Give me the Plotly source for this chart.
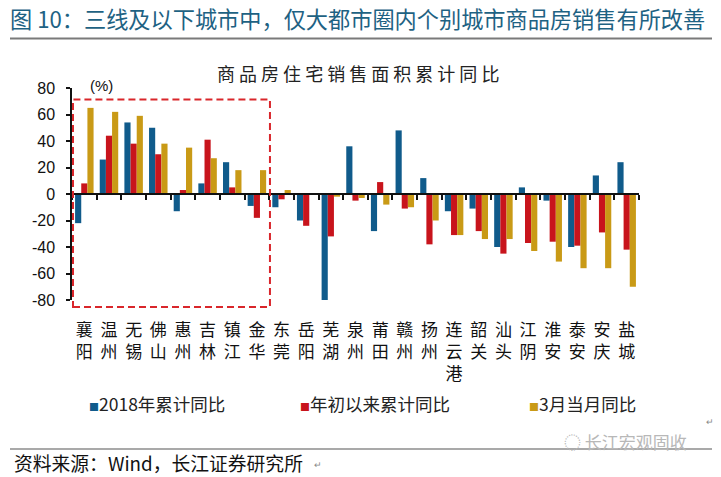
import plotly.graph_objects as go

# ---------------- data ----------------
cities = ["襄阳", "温州", "无锡", "佛山", "惠州", "吉林", "镇江", "金华", "东莞", "岳阳",
          "芜湖", "泉州", "莆田", "赣州", "扬州", "连云港", "韶关", "汕头", "江阴", "淮安",
          "泰安", "安庆", "盐城"]
yoy_2018 = [-22, 26, 54, 50, -13, 8, 24, -9, -10, -20, -80, 36, -28, 48, 12, -13, -11, -40, 5, -5, -40, 14, 24]
ytd_yoy = [8, 44, 38, 30, 3, 41, 5, -18, -4, -24, -32, -5, 9, -11, -38, -31, -28, -45, -37, -36, -39, -29, -42]
mar_yoy = [65, 62, 59, 38, 35, 27, 18, 18, 3, 0, -2, -3, -8, -10, -20, -31, -34, -34, -43, -51, -56, -56, -70]
series_names = ["2018年累计同比", "年初以来累计同比", "3月当月同比"]
y_ticks = [-80, -60, -40, -20, 0, 20, 40, 60, 80]
highlight_count = 8  # cities inside the dashed box (大都市圈)

# ---------------- layout constants ----------------
W, H = 721, 477
L, R, T, B = 72, 82, 88, 177
PW, PH = W - L - R, H - T - B
CJK = "Noto Sans CJK SC"
NUM = "Arial, Liberation Sans, Noto Sans CJK SC"
colors = ["#105b8b", "#c8141c", "#c99a16"]


def px(x):
    return (x - L) / PW


def py(y):
    return (H - B - y) / PH


labels = ["<br>".join(list(c)) for c in cities]

fig = go.Figure()
for i, (name, vals) in enumerate(zip(series_names, [yoy_2018, ytd_yoy, mar_yoy])):
    fig.add_trace(go.Bar(
        x=labels, y=vals, name=name, marker=dict(color=colors[i], line=dict(width=0)),
        showlegend=False,
    ))

# invisible trace to carry categories on the zero-line axis
fig.add_trace(go.Scatter(x=labels, y=[0] * len(labels), xaxis="x2", yaxis="y",
                         mode="markers", marker=dict(opacity=0), showlegend=False,
                         hoverinfo="skip"))

fig.update_layout(
    width=W, height=H,
    margin=dict(l=L, r=R, t=T, b=B, autoexpand=False),
    paper_bgcolor="white", plot_bgcolor="white",
    barmode="group", bargap=0.25, bargroupgap=0,
    showlegend=False,
    xaxis=dict(type="category", range=[-0.5, len(cities) - 0.5], showline=False,
               ticks="", showgrid=False, zeroline=False,
               tickfont=dict(family=CJK, size=17, color="#111"),
               ticklabelstandoff=18),
    xaxis2=dict(type="category", overlaying="x", anchor="free", position=0.5,
                range=[-0.5, len(cities) - 0.5], showline=True, linecolor="#111",
                linewidth=2, ticks="outside", ticklen=5, tickwidth=2, tickcolor="#111",
                tickson="boundaries", showticklabels=False, showgrid=False,
                zeroline=False, side="bottom"),
    yaxis=dict(range=[-80, 80], tickvals=y_ticks, ticktext=[str(v) for v in y_ticks],
               showline=True, linecolor="#111", linewidth=1.5, ticks="outside",
               ticklen=4, tickwidth=1.5, tickcolor="#111", showgrid=False,
               zeroline=False, tickfont=dict(family=NUM, size=16, color="#111"),
               ticklabelstandoff=8),
    font=dict(family=CJK),
)

# dashed highlight box around metropolitan-area cities
fig.add_shape(type="rect", xref="x", yref="paper",
              x0=-0.46, x1=highlight_count - 0.47, y0=py(307), y1=py(99.5),
              line=dict(color="#d9262b", width=2, dash="7px,4px"), fillcolor="rgba(0,0,0,0)",
              layer="above")

# header line and footer line
fig.add_shape(type="line", xref="paper", yref="paper", x0=px(10), x1=px(712),
              y0=py(38.5), y1=py(38.5), line=dict(color="#7a7a7a", width=2))
fig.add_shape(type="line", xref="paper", yref="paper", x0=px(10), x1=px(712),
              y0=py(449), y1=py(449), line=dict(color="#555", width=1.2))

# legend (built from the series names and colours)
legend_text_starts = [87, 298, 527]
annotations = []
for name, col, x0 in zip(series_names, colors, legend_text_starts):
    annotations.append(dict(
        text=f"<span style='color:{col};font-size:10px'>■</span>{name}",
        x=px(x0), y=py(403), xanchor="left", yanchor="middle",
        font=dict(family=CJK, size=17.5, color="#222")))

annotations += [
    dict(text="图 10：三线及以下城市中，仅大都市圈内个别城市商品房销售有所改善",
         x=px(8), y=py(18), xanchor="left", yanchor="middle",
         font=dict(family=CJK, size=22.2, color="#1e6283")),
    dict(text=" ".join(list("商品房住宅销售面积累计同比")), x=px(358), y=py(73),
         xanchor="center", yanchor="middle", font=dict(family=CJK, size=18, color="#222")),
    dict(text="(%)", x=px(101), y=py(85), xanchor="center", yanchor="middle",
         font=dict(family=NUM, size=15, color="#111")),
    dict(text="资料来源：Wind，长江证券研究所", x=px(12), y=py(462), xanchor="left",
         yanchor="middle", font=dict(family=CJK, size=18.8, color="#111")),
    dict(text="↵", x=px(312), y=py(464), xanchor="left", yanchor="middle",
         font=dict(family=CJK, size=9, color="#888")),
    dict(text="↵", x=px(704), y=py(421), xanchor="left", yanchor="middle",
         font=dict(family=CJK, size=9, color="#888")),
    dict(text="◌ 长江宏观固收", x=px(562), y=py(441), xanchor="left", yanchor="middle",
         font=dict(family=CJK, size=17, color="#b8b8b8")),
]
for a in annotations:
    a.update(xref="paper", yref="paper", showarrow=False)
fig.update_layout(annotations=annotations)

fig.write_html("out.html", post_script="document.body.style.margin='0';",
               config={"displayModeBar": False})
